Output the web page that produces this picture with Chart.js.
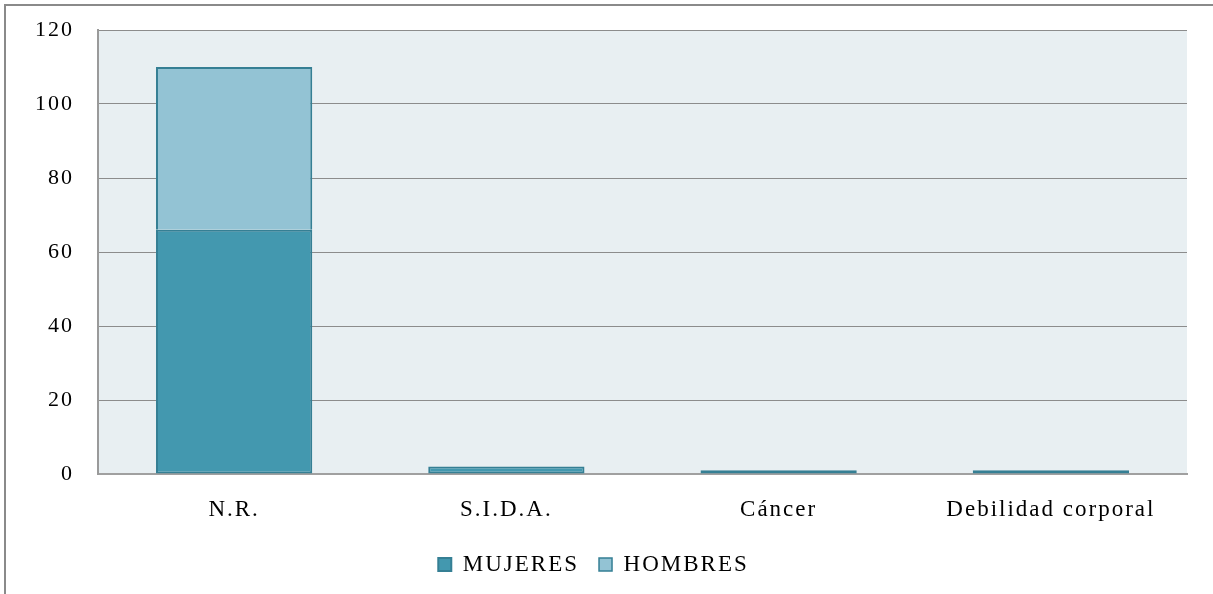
<!DOCTYPE html>
<html>
<head>
<meta charset="utf-8">
<script src="https://cdn.jsdelivr.net/npm/chart.js@4/dist/chart.umd.min.js"></script>
<style>
  html, body { margin: 0; padding: 0; background: #ffffff; }
  #wrap { width: 1213px; height: 594px; position: relative; }
</style>
</head>
<body>
<div id="wrap"><canvas id="chart" width="1213" height="594"></canvas></div>
<script>
// Causes reported, split by sex
const categories = ['N.R.', 'S.I.D.A.', 'Cáncer', 'Debilidad corporal'];
const mujeres = [66, 2, 1, 1];
const hombres = [44, 0, 0, 0];
const yTicks = [0, 20, 40, 60, 80, 100, 120];

const FONT = "'Liberation Serif', 'Times New Roman', serif";
const SPACING = '2px';

// Canvas state (letter spacing) is reset whenever the canvas is resized,
// so it is reapplied before measuring and drawing.
const spacingPlugin = {
  id: 'spacing',
  beforeInit(chart) { chart.ctx.letterSpacing = SPACING; },
  beforeUpdate(chart) { chart.ctx.letterSpacing = SPACING; },
  beforeLayout(chart) { chart.ctx.letterSpacing = SPACING; },
  beforeDraw(chart) { chart.ctx.letterSpacing = SPACING; }
};

// White page, outer frame and tinted plot area
const framePlugin = {
  id: 'frame',
  beforeDraw(chart) {
    const { ctx, chartArea: a, width, height } = chart;
    ctx.save();
    ctx.fillStyle = '#ffffff';
    ctx.fillRect(0, 0, width, height);
    ctx.strokeStyle = '#8a8a8a';
    ctx.lineWidth = 2;
    ctx.beginPath();
    ctx.moveTo(5, height);
    ctx.lineTo(5, 5);
    ctx.lineTo(width, 5);
    ctx.stroke();
    ctx.fillStyle = '#e8eff2';
    ctx.fillRect(a.left, a.top, a.right - a.left, a.bottom - a.top);
    ctx.restore();
  }
};

// Keep the plot edges where the layout padding puts them
function noEdgePadding(scale) {
  scale.paddingTop = 0;
  scale.paddingBottom = 0;
  scale.paddingLeft = 0;
  scale.paddingRight = 0;
}

new Chart(document.getElementById('chart'), {
  type: 'bar',
  data: {
    labels: categories,
    datasets: [
      {
        label: 'MUJERES',
        data: mujeres,
        backgroundColor: '#4398af',
        borderColor: '#357f94',
        borderWidth: 2,
        borderSkipped: false
      },
      {
        label: 'HOMBRES',
        data: hombres,
        backgroundColor: '#93c3d4',
        borderColor: '#357f94',
        borderWidth: { top: 2, left: 2, right: 2, bottom: 0 },
        borderSkipped: false
      }
    ]
  },
  options: {
    responsive: false,
    animation: false,
    devicePixelRatio: 1,
    layout: { padding: { left: 0, right: 26, top: 30, bottom: 8 } },
    datasets: { bar: { categoryPercentage: 1, barPercentage: 0.574 } },
    plugins: {
      legend: {
        position: 'bottom',
        labels: {
          font: { family: FONT, size: 23 },
          color: '#000000',
          boxWidth: 13,
          boxHeight: 13,
          padding: 20,
          useBorderRadius: false
        }
      },
      tooltip: { enabled: false }
    },
    scales: {
      x: {
        stacked: true,
        grid: { display: false, drawTicks: false },
        border: { color: '#a0a0a0', width: 2 },
        ticks: {
          font: { family: FONT, size: 23 },
          color: '#000000',
          padding: 22
        },
        afterFit(scale) { scale.height = 59; noEdgePadding(scale); }
      },
      y: {
        stacked: true,
        min: 0,
        max: 120,
        afterBuildTicks(scale) { scale.ticks = yTicks.map(v => ({ value: v })); },
        grid: { color: '#8c8c8c', lineWidth: 1, drawTicks: false },
        border: { color: '#9a9a9a', width: 2 },
        ticks: {
          font: { family: FONT, size: 22 },
          color: '#000000',
          padding: 24
        },
        afterFit(scale) { scale.width = 98; noEdgePadding(scale); }
      }
    }
  },
  plugins: [spacingPlugin, framePlugin]
});
</script>
</body>
</html>
